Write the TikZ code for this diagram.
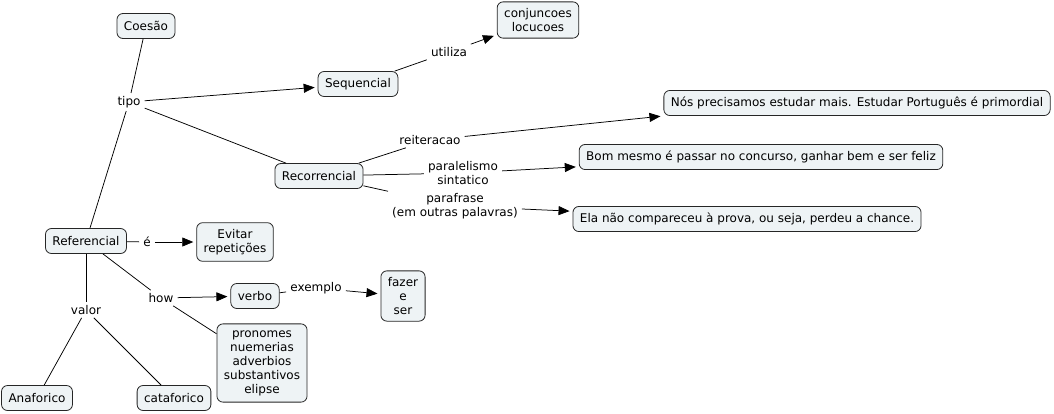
\documentclass[tikz,border=0pt]{standalone}
\usepackage{fontspec}
\setmainfont{DejaVu Sans}
\usetikzlibrary{arrows.meta}
\definecolor{cmapfill}{RGB}{238,243,245}
\tikzset{
  concept/.style={draw=black!85, fill=cmapfill, rounded corners=6pt, align=center,
    inner xsep=7pt, inner ysep=6.5pt, minimum height=25pt, line width=0.8pt},
  linkword/.style={align=center, inner xsep=4pt, inner ysep=3pt},
  link/.style={line width=0.75pt},
  linkarrow/.style={link, -{Triangle[length=11pt,width=9pt]}, shorten >=3pt},
}

\begin{document}
\begin{tikzpicture}[x=1pt, y=-1pt, font=\fontsize{12}{14}\selectfont]
  \useasboundingbox (0,0) rectangle (1054,413);

  % Coesao and its types
  \node[concept] (coesao) at (146,26) {Coesão};
  \node[linkword] (tipo) at (129,102) {tipo};
  \node[concept] (seq) at (358,84) {Sequencial};
  \node[concept] (rec) at (319,176) {Recorrencial};
  \node[concept] (ref) at (86,241) {Referencial};

  % Sequencial
  \node[linkword] (utiliza) at (449,52) {utiliza};
  \node[concept] (conj) at (538,20) {conjuncoes\\locucoes};

  % Recorrencial
  \node[linkword] (reit) at (430,140) {reiteracao};
  \node[concept] (nos) at (857,103) {Nós precisamos estudar mais. Estudar Português é primordial};
  \node[linkword] (paral) at (463,173) {paralelismo\\sintatico};
  \node[concept] (bom) at (761,157) {Bom mesmo é passar no concurso, ganhar bem e ser feliz};
  \node[linkword] (paraf) at (455,206) {parafrase\\(em outras palavras)};
  \node[concept] (ela) at (747,219) {Ela não compareceu à prova, ou seja, perdeu a chance.};

  % Referencial
  \node[linkword] (e) at (147,242) {é};
  \node[concept] (evitar) at (235,242) {Evitar\\repetições};
  \node[linkword] (how) at (161,298) {how};
  \node[concept] (verbo) at (255,296) {verbo};
  \node[linkword] (exemplo) at (316,288) {exemplo};
  \node[concept] (fazer) at (403,296) {fazer\\e\\ser};
  \node[concept] (pron) at (262,363) {pronomes\\nuemerias\\adverbios\\substantivos\\elipse};
  \node[linkword] (valor) at (86,310) {valor};
  \node[concept] (ana) at (37,398) {Anaforico};
  \node[concept] (cata) at (174,398) {cataforico};

  % Connectors
  \draw[link] (coesao) -- (tipo);
  \draw[linkarrow] (tipo) -- (seq);
  \draw[link] (tipo) -- (rec);
  \draw[link] (tipo) -- (ref);

  \draw[link] (seq) -- (utiliza);
  \draw[linkarrow] (utiliza) -- (conj);

  \draw[link] (rec) -- (reit);
  \draw[linkarrow] (reit) -- (nos.south west);
  \draw[link] (rec) -- (paral);
  \draw[linkarrow] (paral) -- (bom);
  \draw[link] (rec) -- (paraf);
  \draw[linkarrow] (paraf) -- (ela);

  \draw[link] (ref) -- (e);
  \draw[linkarrow] (e) -- (evitar);
  \draw[link] (ref) -- (how);
  \draw[linkarrow] (how) -- (verbo);
  \draw[link] (how) -- (pron);
  \draw[link] (verbo) -- (exemplo);
  \draw[linkarrow] (exemplo) -- (fazer);
  \draw[link] (ref) -- (valor);
  \draw[link] (valor) -- (ana);
  \draw[link] (valor) -- (cata);
\end{tikzpicture}
\end{document}
